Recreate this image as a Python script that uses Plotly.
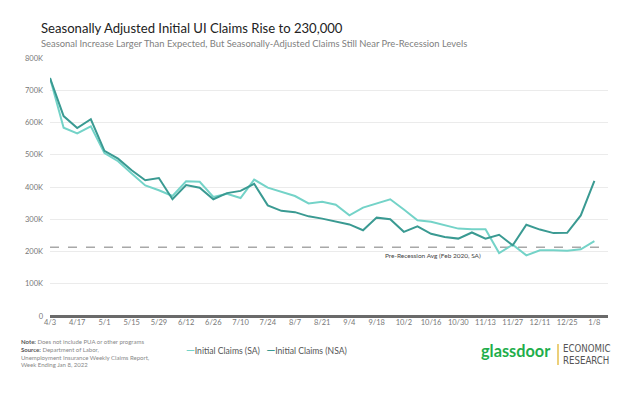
import plotly.graph_objects as go

weeks = ["4/3","4/10","4/17","4/24","5/1","5/8","5/15","5/22","5/29","6/5","6/12","6/19","6/26","7/3",
         "7/10","7/17","7/24","7/31","8/7","8/14","8/21","8/28","9/4","9/11","9/18","9/25","10/2","10/9",
         "10/16","10/23","10/30","11/6","11/13","11/20","11/27","12/4","12/11","12/18","12/25","1/1","1/8"]
claims_sa = [738,584,566,588,505,480,442,405,390,372,418,416,369,379,366,423,398,384,372,349,
             354,345,312,336,350,362,330,297,292,281,271,269,269,195,221,188,204,204,202,207,232]
claims_nsa = [738,620,583,610,512,488,452,421,428,362,406,398,362,381,388,410,343,326,322,309,
              302,294,284,266,305,300,261,278,255,245,240,259,240,252,219,283,268,257,258,312,419]
tick_labels = weeks[::2]
pre_recession_avg = 213

SA_COLOR = "#74d3c8"
NSA_COLOR = "#3a9a92"
FONT = "Lato"

# page body adds an 8px margin; design coordinates below are in window pixels
OFF = 8
W, H = 630, 410
PLOT_LEFT, PLOT_RIGHT, PLOT_TOP, PLOT_BOTTOM = 50, 608, 58, 316
L = PLOT_LEFT - OFF
T = PLOT_TOP - OFF
R = W - (PLOT_RIGHT - OFF)
B = H - (PLOT_BOTTOM - OFF)
PW, PH = PLOT_RIGHT - PLOT_LEFT, PLOT_BOTTOM - PLOT_TOP

def px(x):
    return (x - PLOT_LEFT) / PW

def py(y):
    return (PLOT_BOTTOM - y) / PH

fig = go.Figure()
fig.add_trace(go.Scatter(x=weeks, y=[v*1000 for v in claims_sa], mode="lines",
                         line=dict(color=SA_COLOR, width=2), name="Initial Claims (SA)"))
fig.add_trace(go.Scatter(x=weeks, y=[v*1000 for v in claims_nsa], mode="lines",
                         line=dict(color=NSA_COLOR, width=2), name="Initial Claims (NSA)"))

fig.add_shape(type="line", xref="paper", x0=0, x1=1, yref="y",
              y0=pre_recession_avg*1000, y1=pre_recession_avg*1000,
              line=dict(color="#a8a8a8", width=1.5, dash="dash"), layer="below")

fig.update_layout(
    width=W, height=H,
    margin=dict(l=L, r=R, t=T, b=B, autoexpand=False),
    paper_bgcolor="white", plot_bgcolor="white",
    showlegend=False,
    font=dict(family=FONT, color="#777"),
    xaxis=dict(type="category", range=[0, 41], tickmode="array", tickvals=tick_labels,
               ticktext=tick_labels, showgrid=False, showline=False, ticks="",
               zeroline=False, automargin=False, tickfont=dict(size=7.5, color="#777")),
    yaxis=dict(range=[0, 800000], tickvals=[0,100000,200000,300000,400000,500000,600000,700000,800000],
               ticktext=["0","100K","200K","300K","400K","500K","600K","700K","800K"],
               showgrid=True, gridcolor="#ebebeb", gridwidth=1.2, zeroline=True,
               zerolinecolor="#6a6a6a", zerolinewidth=2.5, ticks="", automargin=False,
               ticklabelstandoff=6, tickfont=dict(size=7.5, color="#777")),
)

fig.add_annotation(text="Seasonally Adjusted Initial UI Claims Rise to 230,000", xref="paper", yref="paper",
                   x=px(39), y=py(28), xanchor="left", yanchor="middle", showarrow=False,
                   font=dict(size=13.1, color="#222", family=FONT))
fig.add_annotation(text="Seasonal Increase Larger Than Expected, But Seasonally-Adjusted Claims Still Near Pre-Recession Levels",
                   xref="paper", yref="paper", x=px(39), y=py(44), xanchor="left", yanchor="middle",
                   showarrow=False, font=dict(size=9.4, color="#808080", family=FONT))

fig.add_annotation(text="Pre-Recession Avg (Feb 2020, SA)", xref="paper", yref="paper",
                   x=px(433), y=py(255), xanchor="center", yanchor="middle",
                   showarrow=False, font=dict(size=6.5, color="#444"))

fig.add_annotation(
    text=("<b style='color:#555'>Note:</b> Does not include PUA or other programs<br>"
          "<b style='color:#555'>Source:</b> Department of Labor,<br>"
          "Unemployment Insurance Weekly Claims Report,<br>Week Ending Jan 8, 2022"),
    xref="paper", yref="paper", x=px(19), y=py(336), xanchor="left", yanchor="top",
    align="left", showarrow=False, font=dict(size=6, color="#888"))

fig.add_annotation(
    text=(f"<span style='color:{SA_COLOR};font-size:11px'><b>—</b></span>Initial Claims (SA)"
          f"   <span style='color:{NSA_COLOR};font-size:11px'><b>—</b></span>Initial Claims (NSA)"),
    xref="paper", yref="paper", x=px(266), y=py(349), xanchor="center", yanchor="middle",
    showarrow=False, font=dict(size=8.6, color="#555"))

fig.add_annotation(text="<b>glassdoor</b>", xref="paper", yref="paper",
                   x=px(553), y=py(350), xanchor="right", yanchor="middle",
                   showarrow=False, font=dict(size=16.3, color="#1fae4c", family=FONT))
fig.add_shape(type="line", xref="paper", yref="paper",
              x0=px(558), x1=px(558), y0=py(344), y1=py(365),
              line=dict(color="#e0b020", width=1.2))
fig.add_annotation(text="ECONOMIC<br>RESEARCH", xref="paper", yref="paper",
                   x=px(561), y=py(354), xanchor="left", yanchor="middle", align="left",
                   showarrow=False,
                   font=dict(size=9.6, color="#555", family="DejaVu Sans Condensed, Roboto"))

fig.write_html("out.html")
